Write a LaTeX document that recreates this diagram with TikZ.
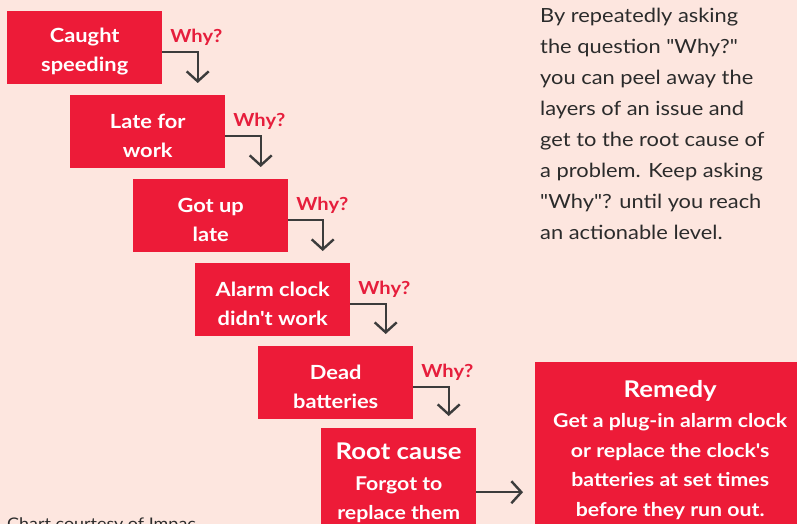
\documentclass[tikz,border=0pt]{standalone}
\usepackage{fontspec}
\setmainfont{Lato}[FakeStretch=1.12, Ligatures=TeXOff]
\usetikzlibrary{arrows.meta}
\definecolor{bg}{HTML}{FDE6DF}
\definecolor{boxred}{HTML}{ED1B38}
\definecolor{whyred}{HTML}{E61E3C}
\definecolor{conn}{HTML}{3C3C3C}
\definecolor{para}{HTML}{2B2B2B}
\tikzset{
  stepbox/.style={fill=boxred, minimum width=155pt, minimum height=73pt, inner sep=0pt, anchor=north west},
  steptext/.style={text=white, font=\bfseries\fontsize{19.5}{29}\selectfont, align=center, inner sep=0pt, yshift=-4pt},
  bigbox/.style={fill=boxred, inner sep=0pt, anchor=north west},
  boxtext/.style={text=white, font=\bfseries\fontsize{19}{29.5}\selectfont, align=center, inner sep=0pt},
  whylabel/.style={text=whyred, font=\bfseries\fontsize{18}{22}\selectfont, inner sep=0pt, anchor=base},
  connline/.style={draw=conn, line width=2.4pt, -{Straight Barb[length=10pt,width=22pt]}},
  paratext/.style={text=para, font=\fontsize{19.5}{31}\selectfont, align=left, inner sep=0pt, anchor=north west},
}
\begin{document}
\begin{tikzpicture}[x=1pt,y=-1pt]
\useasboundingbox (0,0) rectangle (797,524);
\clip (0,0) rectangle (797,524);
\fill[bg] (0,0) rectangle (797,524);

\node[stepbox] (b1) at (7,11) {};
\node[stepbox] (b2) at (70,95) {};
\node[stepbox] (b3) at (133,179) {};
\node[stepbox] (b4) at (195,263) {};
\node[stepbox] (b5) at (258,346) {};
\node[steptext] (t1) at (b1.center) {Caught\\speeding};
\node[steptext] (t2) at (b2.center) {Late for\\work};
\node[steptext] (t3) at (b3.center) {Got up\\late};
\node[steptext] (t4) at (b4.center) {Alarm clock\\didn't work};
\node[steptext] (t5) at (b5.center) {Dead\\batteries};
\node[bigbox, minimum width=155pt, minimum height=128pt] (root) at (321,428) {};
\node[bigbox, minimum width=270pt, minimum height=260pt] (remedy) at (535,362) {};

\node[boxtext, anchor=north] (roottxt) at ([yshift=-15pt]root.north)
  {{\fontsize{23}{29}\selectfont Root cause}\\[1pt] Forgot to\\ replace them};
\node[boxtext, anchor=north] (remedytxt) at ([yshift=-18pt]remedy.north)
  {{\fontsize{23}{29}\selectfont Remedy}\\[1pt] Get a plug-in alarm clock\\ or replace the clock's\\ batteries at set times\\ before they run out.};

\foreach \a/\b in {b1/b2, b2/b3, b3/b4, b4/b5, b5/root}{
  \draw[connline] ([yshift=-4.5pt]\a.east) -| ([xshift=50pt,yshift=12pt]\b.north);
  \node[whylabel] at ([xshift=34pt,yshift=5.5pt]\a.east) {Why?};
}
\draw[connline] (root.east) -- ([xshift=-12pt]root.east -| remedy.west);

\node[paratext] (para) at (540,8) {By repeatedly asking\\the question "Why?"\\you can peel away the\\layers of an issue and\\get to the root cause of\\a problem. Keep asking\\"Why"? until you reach\\an actionable level.};

\node[text=para, font=\fontsize{16}{19}\selectfont, anchor=base west, inner sep=0pt] (credit) at (7,529) {Chart courtesy of Impac};
\end{tikzpicture}
\end{document}
